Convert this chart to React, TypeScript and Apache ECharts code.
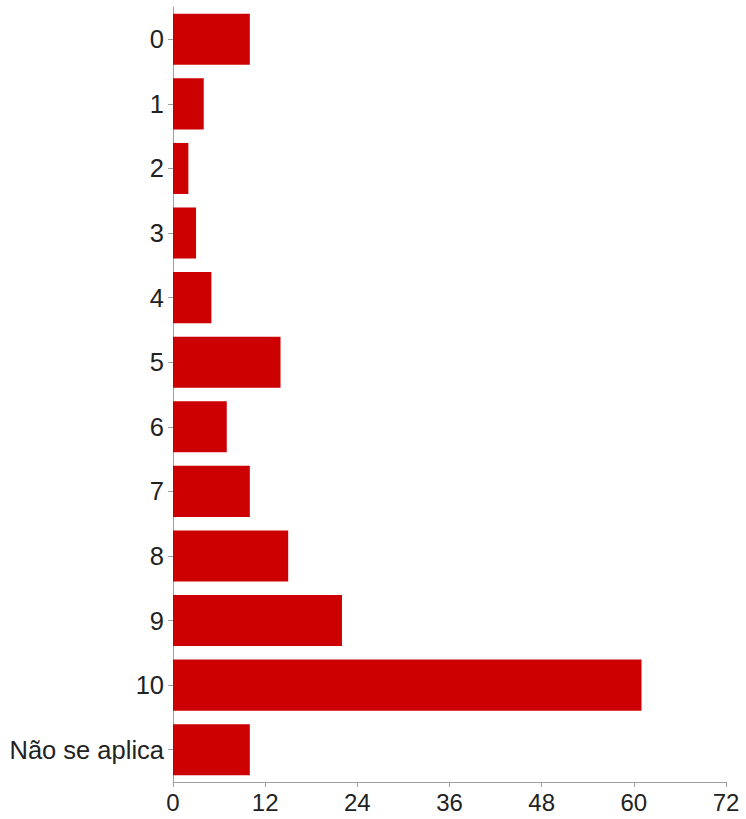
import React, { useEffect, useRef } from "react";
import * as echarts from "echarts";

const categories = ["0", "1", "2", "3", "4", "5", "6", "7", "8", "9", "10", "Não se aplica"];
const values = [10, 4, 2, 3, 5, 14, 7, 10, 15, 22, 61, 10];
const xMin = 0;
const xMax = 72;
const xInterval = 12;

export default function App() {
  const ref = useRef<HTMLDivElement>(null);
  useEffect(() => {
    if (!ref.current) return;
    const chart = echarts.init(ref.current, null, { renderer: "svg" });
    const axisColor = "#a0a0a0";
    chart.setOption({
      animation: false,
      backgroundColor: "#ffffff",
      grid: { left: 173, top: 7, right: 20, bottom: 37, containLabel: false },
      xAxis: {
        type: "value",
        min: xMin,
        max: xMax,
        interval: xInterval,
        splitLine: { show: false },
        axisLine: { show: true, lineStyle: { color: axisColor, width: 1 } },
        axisTick: { show: true, length: 5, lineStyle: { color: axisColor } },
        axisLabel: {
          color: "#222",
          fontSize: 24,
          fontFamily: "Liberation Sans, Arial, sans-serif",
          margin: 8,
        },
      },
      yAxis: {
        type: "category",
        data: categories,
        inverse: true,
        axisLine: { show: true, lineStyle: { color: axisColor, width: 1 } },
        axisTick: { show: true, length: 5, alignWithLabel: true, lineStyle: { color: axisColor } },
        axisLabel: {
          color: "#222",
          fontSize: 25.5,
          fontFamily: "Liberation Sans, Arial, sans-serif",
          margin: 9,
          padding: [6, 0, 0, 0],
        },
      },
      series: [
        {
          type: "bar",
          data: values,
          barCategoryGap: "21%",
          itemStyle: { color: "#cc0000" },
        },
      ],
    });
    return () => chart.dispose();
  }, []);
  return (
    <div
      ref={ref}
      style={{ position: "absolute", left: 0, top: 0, width: 746, height: 819 }}
    />
  );
}
